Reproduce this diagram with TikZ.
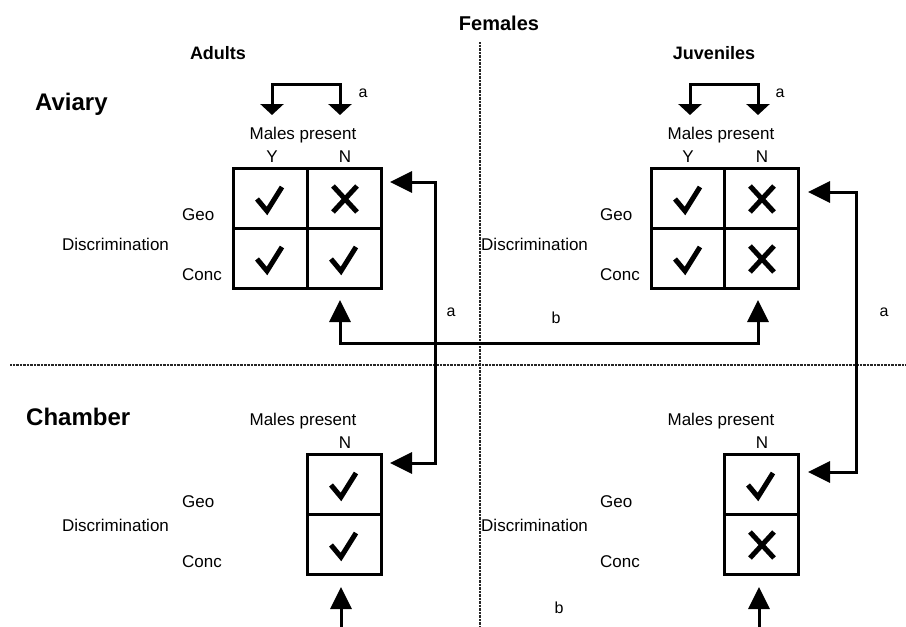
\documentclass[tikz,border=0pt]{standalone}
\usepackage{fontspec}
\setmainfont{Liberation Sans}
\usetikzlibrary{arrows.meta}
\tikzset{
  cell/.style={draw, line width=3pt, minimum width=74pt, minimum height=60pt, inner sep=0pt, outer sep=0pt},
  lbl/.style={font=\fontsize{17}{20}\selectfont, inner sep=0pt, anchor=base},
  lblw/.style={lbl, anchor=base west},
  small/.style={font=\fontsize{16}{19}\selectfont, inner sep=0pt, anchor=base},
  head/.style={font=\bfseries\fontsize{18}{22}\selectfont, inner sep=0pt, anchor=base},
  big/.style={font=\bfseries\fontsize{24}{28}\selectfont, inner sep=0pt, anchor=base west},
  conn/.style={line width=3pt, {Triangle[width=21pt,length=22pt]}-{Triangle[width=21pt,length=22pt]}},
  upconn/.style={line width=3pt, -{Triangle[width=21pt,length=22pt]}},
  brk/.style={line width=3pt, {Triangle[width=23pt,length=11pt]}-{Triangle[width=23pt,length=11pt]}},
  sep/.style={line width=1.6pt, dash pattern=on 0.8pt off 0.6pt, black!85},
  okline/.style={line width=5pt, line join=miter, line cap=butt},
}
\newcommand\mycheck[1]{\draw[okline] ([shift={(-13,1)}]#1.center) -- ++(10,12) -- ++(15,-24);}
\newcommand\mycross[1]{\draw[okline] ([shift={(-11,-12)}]#1.center) -- ++(24,26) ([shift={(13,-12)}]#1.center) -- ++(-24,26);}
\begin{document}
\begin{tikzpicture}[x=1pt,y=-1pt]
\useasboundingbox[fill=white] (0,0) rectangle (906,627);
% separators
\coordinate (vtop) at (480,42);
\coordinate (vbot) at (480,627);
\coordinate (hl) at (10,365);
\coordinate (hr) at (906,365);
\draw[sep] (vtop) -- (vbot);
\draw[sep] (hl) -- (hr);
% titles
\node[head, font=\bfseries\fontsize{20}{24}\selectfont] (fem) at (499,30) {Females};
\node[head] (adu) at (218,59) {Adults};
\node[head] (juv) at (714,59) {Juveniles};
\node[big] (avi) at (35,110) {Aviary};
\node[big] (cha) at (26,425) {Chamber};
% top-left grid
\node[cell] (c11) at (270,198) {};
\node[cell] (c12) at (344,198) {};
\node[cell] (c21) at (270,258) {};
\node[cell] (c22) at (344,258) {};
\mycheck{c11} \mycross{c12} \mycheck{c21} \mycheck{c22}
\node[lbl] (mp1) at (303,139) {Males present};
\node[lbl] (y1) at (272,162) {Y};
\node[lbl] (n1) at (345,162) {N};
\node[lblw] (geo1) at (182,220) {Geo};
\node[lblw] (con1) at (182,280) {Conc};
\node[lblw] (dis1) at (62,250) {Discrimination};
% top-right grid
\node[cell, minimum width=73pt] (d11) at (688,198) {};
\node[cell, minimum width=74pt] (d12) at (761,198) {};
\node[cell, minimum width=73pt] (d21) at (688,258) {};
\node[cell, minimum width=74pt] (d22) at (761,258) {};
\mycheck{d11} \mycross{d12} \mycheck{d21} \mycross{d22}
\node[lbl] (mp2) at (721,139) {Males present};
\node[lbl] (y2) at (688,162) {Y};
\node[lbl] (n2) at (762,162) {N};
\node[lblw] (geo2) at (600,220) {Geo};
\node[lblw] (con2) at (600,280) {Conc};
\node[lblw] (dis2) at (481,250) {Discrimination};
% bottom-left grid
\node[cell] (e1) at (344,484) {};
\node[cell] (e2) at (344,544) {};
\mycheck{e1} \mycheck{e2}
\node[lbl] (mp3) at (303,425) {Males present};
\node[lbl] (n3) at (345,448) {N};
\node[lblw] (geo3) at (182,507) {Geo};
\node[lblw] (con3) at (182,567) {Conc};
\node[lblw] (dis3) at (62,531) {Discrimination};
% bottom-right grid
\node[cell] (f1) at (761,484) {};
\node[cell] (f2) at (761,544) {};
\mycheck{f1} \mycross{f2}
\node[lbl] (mp4) at (721,425) {Males present};
\node[lbl] (n4) at (762,448) {N};
\node[lblw] (geo4) at (600,507) {Geo};
\node[lblw] (con4) at (600,567) {Conc};
\node[lblw] (dis4) at (481,531) {Discrimination};
% bracket arrows Y <-> N
\coordinate (ya) at (272,115);
\coordinate (na) at (340,115);
\draw[brk] (ya) -- (272,84) -- (340,84) -- (na);
\node[small] (la1) at (363,97) {a};
\coordinate (yb) at (690,115);
\coordinate (nb) at (758,115);
\draw[brk] (yb) -- (690,84) -- (758,84) -- (nb);
\node[small] (la2) at (780,97) {a};
% aviary <-> chamber (adults)
\coordinate (ta) at ([xshift=9pt]c12.east |- 0,182);
\coordinate (ba) at (390,463);
\draw[conn] (ta) -- (435,182) -- (435,463) -- (ba);
\node[small] (la3) at (451,316) {a};
% aviary <-> chamber (juveniles)
\coordinate (tb) at (808,192);
\coordinate (bb) at (808,472);
\draw[conn] (tb) -- (856,192) -- (856,472) -- (bb);
\node[small] (la4) at (884,316) {a};
% adults <-> juveniles (aviary)
\coordinate (ua) at (340,300);
\coordinate (ub) at (758,300);
\draw[conn] (ua) -- (340,343) -- (758,343) -- (ub);
\node[small] (lb1) at (556,323) {b};
% chamber up arrows
\coordinate (s1) at (341,627);
\coordinate (t1) at (341,587);
\draw[upconn] (s1) -- (t1);
\coordinate (s2) at (759,627);
\coordinate (t2) at (759,587);
\draw[upconn] (s2) -- (t2);
\node[small] (lb2) at (559,613) {b};
\end{tikzpicture}
\end{document}
